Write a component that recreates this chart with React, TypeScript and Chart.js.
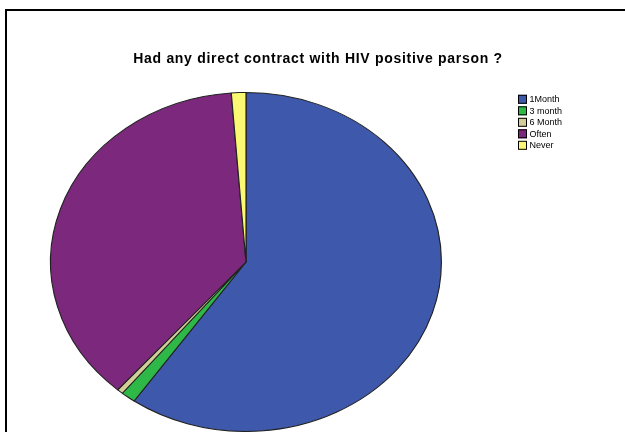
import React, { useEffect, useRef } from "react";
import { Chart, registerables } from "chart.js";

Chart.register(...registerables);

const categories = ["1Month", "3 month", "6 Month", "Often", "Never"];
const values = [59.7, 1.2, 0.5, 37.4, 1.2];
const colors = ["#3E58AC", "#2EB848", "#D3CE97", "#7C287D", "#FBF873"];
const titleText = "Had any direct contract with HIV positive parson ?";

const W = 625;
const H = 432;

const ellipsePlugin = {
  id: "ellipse",
  beforeDatasetsDraw(chart: any) {
    const { ctx, chartArea } = chart;
    const cx = (chartArea.left + chartArea.right) / 2;
    const cy = (chartArea.top + chartArea.bottom) / 2;
    ctx.save();
    ctx.translate(cx, cy);
    ctx.scale(196 / 170, 1);
    ctx.translate(-cx, -cy);
  },
  afterDatasetsDraw(chart: any) {
    chart.ctx.restore();
  },
};

const textPlugin = {
  id: "texts",
  afterDraw(chart: any) {
    const ctx = chart.ctx;
    ctx.save();
    ctx.fillStyle = "#000";
    ctx.font = "bold 14px 'Liberation Sans', Arial, sans-serif";
    (ctx as any).letterSpacing = "0.7px";
    ctx.textAlign = "left";
    ctx.textBaseline = "middle";
    const tw = ctx.measureText(titleText).width;
    ctx.fillText(titleText, 318 - tw / 2, 59);
    (ctx as any).letterSpacing = "0px";

    ctx.font = "9px 'Liberation Sans', Arial, sans-serif";
    ctx.textAlign = "left";
    categories.forEach((c, i) => {
      const yc = 99.3 + i * 11.5;
      ctx.fillStyle = colors[i];
      ctx.fillRect(518, yc - 4.5, 9, 9);
      ctx.strokeStyle = "#000";
      ctx.lineWidth = 1;
      ctx.strokeRect(518.5, yc - 4, 8, 8);
      ctx.fillStyle = "#000";
      ctx.fillText(c, 529.5, yc + 0.5);
    });
    ctx.restore();
  },
};

export default function App() {
  const ref = useRef<HTMLCanvasElement>(null);
  useEffect(() => {
    if (!ref.current) return;
    const chart = new Chart(ref.current, {
      type: "pie",
      data: {
        labels: categories,
        datasets: [
          {
            data: values,
            backgroundColor: colors,
            borderColor: "#222",
            borderWidth: 1,
          },
        ],
      },
      options: {
        responsive: false,
        animation: false,
        layout: { padding: { left: 76, right: W - 416, top: 92, bottom: 0 } },
        plugins: {
          legend: { display: false },
          title: { display: false },
          tooltip: { enabled: false },
        },
      },
      plugins: [ellipsePlugin, textPlugin],
    });
    return () => chart.destroy();
  }, []);
  return (
    <div style={{ position: "absolute", left: 0, top: 0, width: W, height: H, background: "#fff" }}>
      <div
        style={{
          position: "absolute",
          left: 5,
          top: 9,
          right: 0,
          bottom: -2,
          borderTop: "2px solid #000",
          borderLeft: "2px solid #000",
        }}
      />
      <canvas ref={ref} width={W} height={H} style={{ position: "absolute", left: 0, top: 0 }} />
    </div>
  );
}
